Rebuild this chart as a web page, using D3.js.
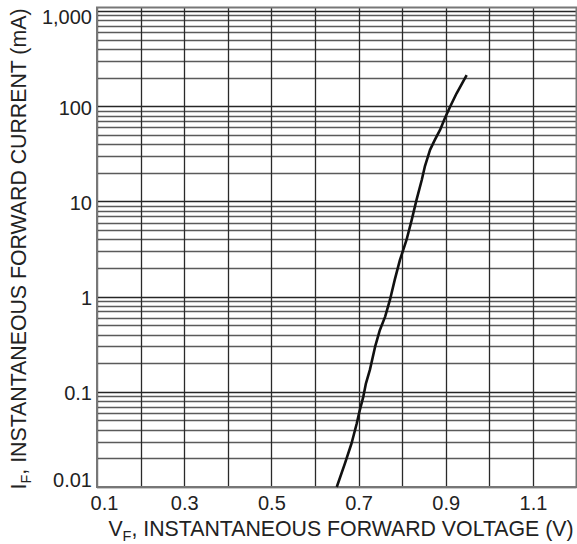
<!DOCTYPE html>
<html>
<head>
<meta charset="utf-8">
<script src="https://cdn.jsdelivr.net/npm/d3@7"></script>
<style>
  body { margin: 0; background: #fff; }
  svg { display: block; font-family: "Liberation Sans", Arial, sans-serif; }
</style>
</head>
<body>
<svg id="chart" width="577" height="544"></svg>
<script>
// forward voltage (V) vs instantaneous forward current (mA)
const vF = [0.650, 0.669, 0.684, 0.696, 0.703, 0.711, 0.717, 0.726, 0.738, 0.749,
            0.761, 0.772, 0.783, 0.795, 0.810, 0.822, 0.833, 0.845, 0.852, 0.864,
            0.875, 0.887, 0.898, 0.910, 0.925, 0.948];
const iF = [0.010, 0.0178, 0.0288, 0.0468, 0.0646, 0.0891, 0.123, 0.170, 0.298, 0.447,
            0.617, 0.923, 1.50, 2.43, 3.94, 6.40, 10.4, 16.8, 23.2, 34.8,
            44.3, 56.4, 74.8, 99.0, 137, 213];

const xTicks = [0.1, 0.3, 0.5, 0.7, 0.9, 1.1];
const xGrid = [0.1, 0.2, 0.3, 0.4, 0.5, 0.6, 0.7, 0.8, 0.9, 1.0, 1.1, 1.2];
const yTicks = [0.01, 0.1, 1, 10, 100, 1000];
const yTickLabels = ["0.01", "0.1", "1", "10", "100", "1,000"];
const decades = [0.01, 0.1, 1, 10, 100];
const mantissas = [1, 2, 3, 4, 5, 6, 7, 8, 9];

const svg = d3.select('#chart');
const plotLeft = 97, plotRight = 576.5, plotTop = 7.5, plotBottom = 487;

let x = d3.scaleLinear().domain([0.1, 1.2]).range([plotLeft, plotRight]);
let y = d3.scaleLog().domain([0.01, 1000]).range([plotBottom, 11.1]);

let grid = svg.append('g');

// horizontal log grid
let hLines = [];
decades.forEach(d => mantissas.forEach(m => hLines.push(+(d * m).toPrecision(3))));
hLines.push(1000);
grid.selectAll('.hgrid')
    .data(hLines)
    .enter()
    .append('line')
    .attr('x1', plotLeft)
    .attr('x2', plotRight)
    .attr('y1', d => Math.round(y(d)) + 0.5)
    .attr('y2', d => Math.round(y(d)) + 0.5)
    .attr('stroke', (d, i) => i % 9 == 0 ? '#262626' : '#5a5a5a')
    .attr('stroke-width', 1.3);

// vertical grid
grid.selectAll('.vgrid')
    .data(xGrid)
    .enter()
    .append('line')
    .attr('x1', d => Math.round(x(d)) + 0.5)
    .attr('x2', d => Math.round(x(d)) + 0.5)
    .attr('y1', plotTop)
    .attr('y2', plotBottom)
    .attr('stroke', '#2a2a2a')
    .attr('stroke-width', 1.3);

// frame
grid.append('rect')
    .attr('x', plotLeft)
    .attr('y', plotTop)
    .attr('width', plotRight - plotLeft)
    .attr('height', plotBottom - plotTop)
    .attr('fill', 'none')
    .attr('stroke', '#777')
    .attr('stroke-width', 2);

// curve
let line = d3.line()
    .x(d => x(d[0]))
    .y(d => y(d[1]));
svg.append('path')
    .datum(d3.zip(vF, iF))
    .attr('d', line)
    .attr('fill', 'none')
    .attr('stroke', '#111')
    .attr('stroke-width', 2.6)
    .attr('stroke-linejoin', 'round');

// axes labels
let yAxis = svg.append('g')
    .attr('transform', 'translate(' + plotLeft + ',0)')
    .call(d3.axisLeft(y).tickValues(yTicks)
        .tickFormat((d, i) => yTickLabels[i])
        .tickSize(0).tickPadding(5));
yAxis.select('.domain').remove();
yAxis.selectAll('text')
    .attr('font-family', '"Liberation Sans", Arial, sans-serif')
    .attr('font-size', 20)
    .attr('fill', '#222')
    .attr('dy', (d, i) => i == 0 ? '-0.05em' : (i == yTicks.length - 1 ? '0.62em' : '0.4em'));

let xAxis = svg.append('g')
    .attr('transform', 'translate(0,' + plotBottom + ')')
    .call(d3.axisBottom(x).tickValues(xTicks)
        .tickFormat(d3.format('.1f'))
        .tickSize(0).tickPadding(9));
xAxis.select('.domain').remove();
xAxis.selectAll('text')
    .attr('font-family', '"Liberation Sans", Arial, sans-serif')
    .attr('font-size', 20)
    .attr('fill', '#222')
    .attr('dx', (d, i) => i == 0 ? 7 : 0);

// titles
let xTitle = svg.append('text')
    .attr('x', 341)
    .attr('y', 536)
    .attr('text-anchor', 'middle')
    .attr('font-size', 21.3)
    .attr('fill', '#222');
xTitle.append('tspan').text('V');
xTitle.append('tspan').attr('font-size', 14.5).attr('dy', 5).text('F');
xTitle.append('tspan').attr('dy', -5).text(', INSTANTANEOUS FORWARD VOLTAGE (V)');

let yTitle = svg.append('text')
    .attr('transform', 'translate(26,249) rotate(-90)')
    .attr('text-anchor', 'middle')
    .attr('font-size', 21.3)
    .attr('fill', '#222');
yTitle.append('tspan').text('I');
yTitle.append('tspan').attr('font-size', 14.5).attr('dy', 5).text('F');
yTitle.append('tspan').attr('dy', -5).text(', INSTANTANEOUS FORWARD CURRENT (mA)');
</script>
</body>
</html>
